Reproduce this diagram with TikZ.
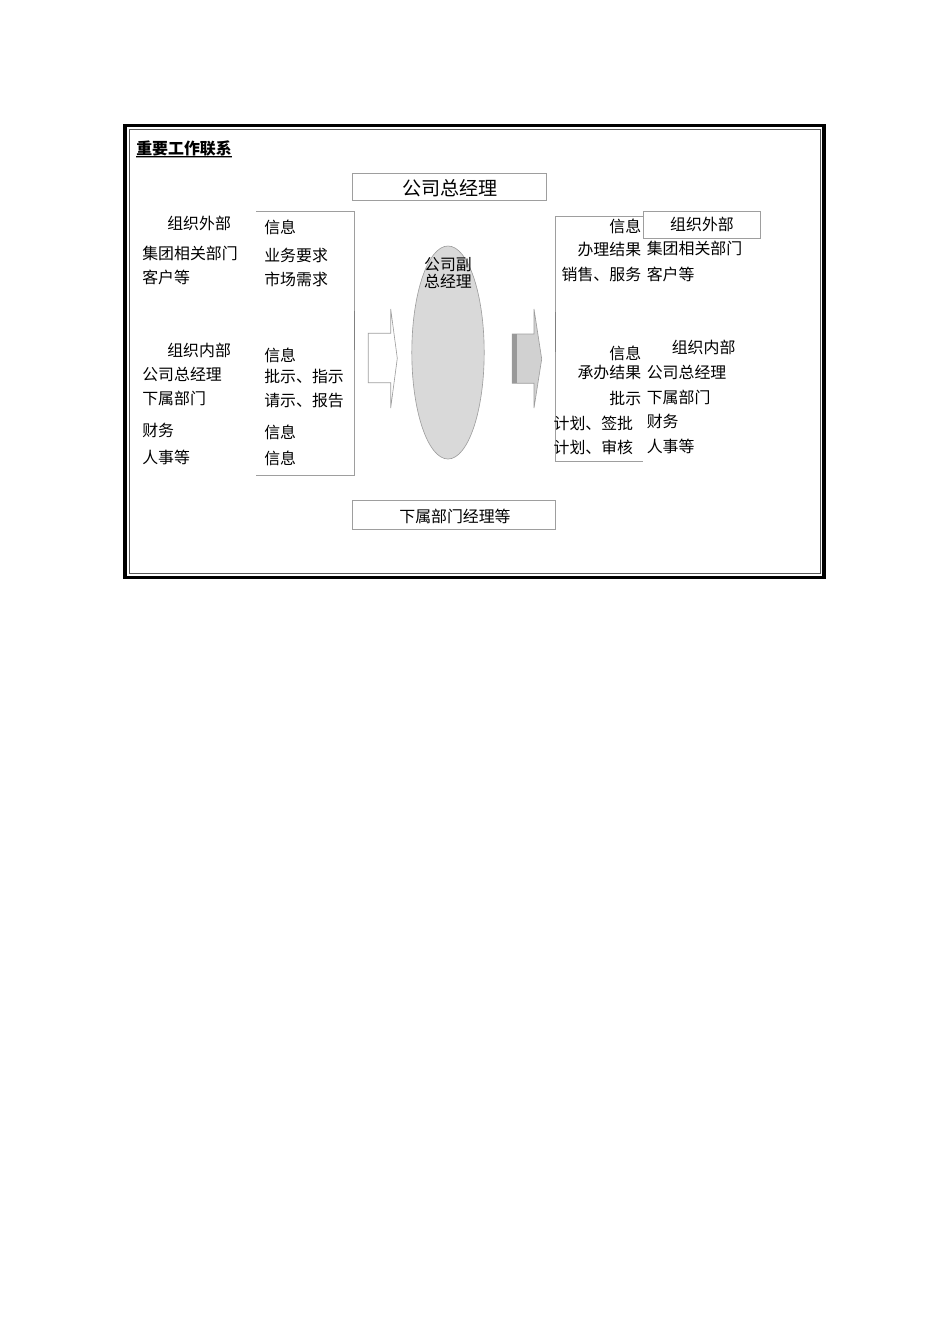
\documentclass[tikz,border=0pt]{standalone}
\usepackage{fontspec}
\setmainfont{Noto Sans CJK SC}
\tikzset{>=latex}
\definecolor{cbx}{gray}{.62}
\definecolor{cfi}{gray}{.35}
\definecolor{cel}{gray}{.85}
\definecolor{car}{gray}{.82}
\definecolor{cst}{gray}{.6}
\begin{document}
\begin{tikzpicture}[x=.2211mm, y=-.2211mm, font=\fontsize{10}{12}\selectfont,
    lt/.style={anchor=west, inner sep=0}, rt/.style={anchor=east, inner sep=0}]
    \useasboundingbox(0, 0)rectangle(950, 1344);
    % frame
    \draw[line width=2.2pt](125, 125.5)rectangle(824, 577.5);
    \draw[cfi, line width=.6pt](129, 129.5)rectangle(820.5, 573);
    \node[lt, font=\fontsize{10}{12}\selectfont\bfseries](ttl)at(136, 148){重要工作联系};
    \draw[line width=.6pt]([yshift=-.3pt]ttl.south west)--([yshift=-.3pt]ttl.south east);
    \draw[cbx, line width=.6pt]([yshift=-1pt]ttl.south west)--([yshift=-1pt]ttl.south east);
    % top and bottom boxes
    \draw[cbx](352.7, 173.3)rectangle(546.7, 200.7);
    \node[font=\fontsize{12}{14}\selectfont](gm)at(449.7, 188.5){公司总经理};
    \draw[cbx](352.7, 500.7)rectangle(555, 529);
    \node(sub)at(455, 516){下属部门经理等};
    % brackets
    \draw[cbx](256, 211)--(354.3, 211)--(354.3, 475.7)--(256, 475.7);
    \draw[gray](354.3, 311)--(354.3, 350);
    \draw[cbx](643, 216)--(555.3, 216)--(555.3, 461.7)--(643, 461.7);
    \draw[gray](555.3, 312)--(555.3, 352);
    \draw[cbx](643.3, 211.7)rectangle(760.7, 238.3);
    % arrows
    \draw[cbx, fill=white](368.3, 333.3)--(390.7, 333.3)--(390.7, 309)--(397.3, 358.3)--(390.7, 408)--(390.7, 382.7)--(368.3, 382.7)--cycle;
    \draw[cbx, fill=car](512.3, 334)--(534, 334)--(534, 309)--(541.7, 359)--(534, 408)--(534, 383.3)--(512.3, 383.3)--cycle;
    \fill[cst](512.3, 334)rectangle(517, 383.3);
    % centre
    \draw[cbx, fill=cel](448, 352.5)ellipse[x radius=36.2, y radius=106.5];
    \node[align=center, font=\fontsize{10}{11.3}\selectfont](vp)at(448, 273){公司副\\总经理};
    % left side
    \node[lt](lo)at(167, 223.5){组织外部};
    \node[lt](lo1)at(142, 253){集团相关部门};
    \node[lt](lo2)at(142, 277){客户等};
    \node[lt](li)at(167, 350){组织内部};
    \node[lt](li1)at(142, 374){公司总经理};
    \node[lt](li2)at(142, 398.5){下属部门};
    \node[lt](li3)at(142, 430.5){财务};
    \node[lt](li4)at(142, 457){人事等};
    \node[lt](lm1)at(264, 227){信息};
    \node[lt](lm2)at(264, 255){业务要求};
    \node[lt](lm3)at(264, 279.5){市场需求};
    \node[lt](lm4)at(264, 355){信息};
    \node[lt](lm5)at(264, 376.5){批示、指示};
    \node[lt](lm6)at(264, 401){请示、报告};
    \node[lt](lm7)at(264, 432){信息};
    \node[lt](lm8)at(264, 458.5){信息};
    % right side
    \node(ro)at(702, 224){组织外部};
    \node[rt](rm1)at(641.5, 226){信息};
    \node[rt](rm2)at(641.5, 249.5){办理结果};
    \node[rt](rm3)at(641.5, 274){销售、服务};
    \node[lt](ro1)at(646.5, 248.5){集团相关部门};
    \node[lt](ro2)at(646.5, 274){客户等};
    \node[lt](ri)at(671.5, 347){组织内部};
    \node[rt](rm4)at(641.5, 353){信息};
    \node[rt](rm5)at(641.5, 372){承办结果};
    \node[rt](rm6)at(641.5, 398.5){批示};
    \node[lt](ri1)at(646.5, 372){公司总经理};
    \node[lt](ri2)at(646.5, 397.5){下属部门};
    \node[lt](rm7)at(553.3, 423){计划、签批};
    \node[lt](rm8)at(553.3, 447){计划、审核};
    \node[lt](ri3)at(646.5, 421){财务};
    \node[lt](ri4)at(646.5, 446){人事等};
\end{tikzpicture}
\end{document}
